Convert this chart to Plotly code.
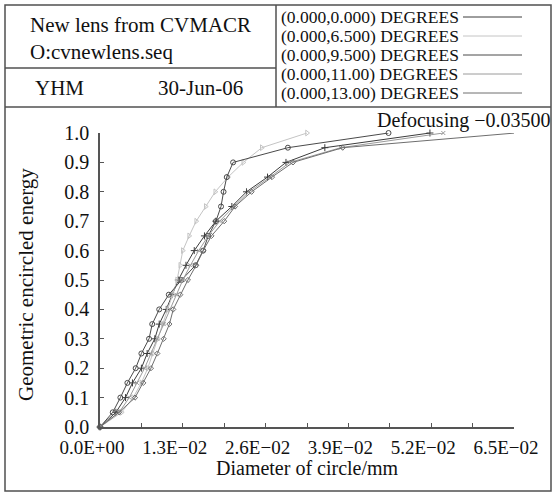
import plotly.graph_objects as go

# ---------------- data ----------------
energy = [0.0, 0.05, 0.10, 0.15, 0.20, 0.25, 0.30, 0.35, 0.40, 0.45, 0.50,
          0.55, 0.60, 0.65, 0.70, 0.75, 0.80, 0.85, 0.90, 0.95, 1.00]

field_labels = ["(0.000,0.000) DEGREES", "(0.000,6.500) DEGREES",
                "(0.000,9.500) DEGREES", "(0.000,11.00) DEGREES",
                "(0.000,13.00) DEGREES"]

diam_f0 = [0.0, 0.0025, 0.0040, 0.0051, 0.0065, 0.0074, 0.0086, 0.0093, 0.0104, 0.0113, 0.0123,
           0.0135, 0.0148, 0.0164, 0.0182, 0.0207, 0.0230, 0.0263, 0.0292, 0.0353, 0.0518]
diam_f1 = [0.0, 0.0034, 0.0052, 0.0065, 0.0075, 0.0083, 0.0091, 0.0099, 0.0107, 0.0114, 0.0121,
           0.0126, 0.0130, 0.0140, 0.0151, 0.0166, 0.0181, 0.0201, 0.0225, 0.0254, 0.0325]
diam_f2 = [0.0, 0.0020, 0.0032, 0.0043, 0.0056, 0.0065, 0.0077, 0.0082, 0.0093, 0.0108, 0.0128,
           0.0150, 0.0162, 0.0170, 0.0182, 0.0190, 0.0194, 0.0199, 0.0209, 0.0295, 0.0453]
diam_f3 = [0.0, 0.0030, 0.0046, 0.0058, 0.0070, 0.0080, 0.0090, 0.0100, 0.0110, 0.0120, 0.0130,
           0.0142, 0.0155, 0.0170, 0.0188, 0.0210, 0.0234, 0.0267, 0.0298, 0.0378, 0.0539]
diam_f4 = [0.0, 0.0030, 0.0055, 0.0068, 0.0080, 0.0090, 0.0100, 0.0109, 0.0115, 0.0126, 0.0138,
           0.0151, 0.0162, 0.0175, 0.0195, 0.0212, 0.0238, 0.0270, 0.0303, 0.0381, 0.0652]

x_tickvals = [0.0, 0.0065, 0.013, 0.0195, 0.026, 0.0325, 0.039, 0.0455, 0.052, 0.0585, 0.065]
x_ticktext = ["0.0E+00", "", "1.3E\u221202", "", "2.6E\u221202", "", "3.9E\u221202", "",
              "5.2E\u221202", "", "6.5E\u221202"]
y_tickvals = [0.0, 0.1, 0.2, 0.3, 0.4, 0.5, 0.6, 0.7, 0.8, 0.9, 1.0]
y_ticktext = ["0.0", "0.1", "0.2", "0.3", "0.4", "0.5", "0.6", "0.7", "0.8", "0.9", "1.0"]

title_lines = ["New lens from CVMACR", "O:cvnewlens.seq"]
author = "YHM"
date = "30-Jun-06"
defocus_text = "Defocusing \u22120.03500"
x_title = "Diameter of circle/mm"
y_title = "Geometric encircled energy"

# ---------------- style ----------------
series = [diam_f0, diam_f1, diam_f2, diam_f3, diam_f4]
colors = ["#3c3c3c", "#c4c4c4", "#4a4a4a", "#9a9a9a", "#6e6e6e"]
symbols = ["cross-thin", "triangle-right-open", "circle-open", "x-thin", "diamond-open"]
msizes = [5, 5, 5, 4, 4]

W, H = 555, 495
L, R, T, B = 100, 514, 133, 427  # plot-area pixel bounds
FONT = "Liberation Serif, Times New Roman, serif"


def px(x):
    return (x - L) / (R - L)


def py(y):
    return (B - y) / (B - T)


fig = go.Figure()
for xs, c, s, ms, name in zip(series, colors, symbols, msizes, field_labels):
    fig.add_trace(go.Scatter(
        x=xs, y=energy, mode="lines+markers", name=name,
        line=dict(color=c, width=1),
        marker=dict(symbol=s, size=ms, color=c, line=dict(color=c, width=1)),
        showlegend=False, cliponaxis=False))

shapes = []
line_style = dict(color="#505050", width=1.5)
shapes.append(dict(type="rect", xref="paper", yref="paper",
                   x0=px(5), x1=px(551), y0=py(5), y1=py(491), line=line_style))
shapes.append(dict(type="line", xref="paper", yref="paper",
                   x0=px(5), x1=px(551), y0=py(107), y1=py(107), line=line_style))
shapes.append(dict(type="line", xref="paper", yref="paper",
                   x0=px(276), x1=px(276), y0=py(5), y1=py(107), line=line_style))
shapes.append(dict(type="line", xref="paper", yref="paper",
                   x0=px(5), x1=px(276), y0=py(68), y1=py(68), line=line_style))

annotations = []


def txt(text, x, y, size, xanchor="left", yanchor="middle", angle=0):
    annotations.append(dict(text=text, xref="paper", yref="paper", x=px(x), y=py(y),
                            xanchor=xanchor, yanchor=yanchor, showarrow=False,
                            textangle=angle, font=dict(family=FONT, size=size, color="#111")))


txt(title_lines[0], 28, 25, 21)
txt(title_lines[1], 28, 52, 21)
txt(author, 33, 88, 21)
txt(date, 156, 88, 21)

legend_y = [17, 36, 55, 74, 93]
for lab, c, yy in zip(field_labels, colors, legend_y):
    txt(lab, 279, yy, 17.5)
    shapes.append(dict(type="line", xref="paper", yref="paper",
                       x0=px(463), x1=px(522), y0=py(yy), y1=py(yy),
                       line=dict(color=c, width=1)))

txt(defocus_text, 552, 120, 20, xanchor="right")
txt(x_title, 307, 468, 20, xanchor="center")
txt(y_title, 26, 285, 21, xanchor="center", angle=-90)

axis_font = dict(family=FONT, size=19, color="#111")
fig.update_layout(
    width=W, height=H,
    margin=dict(l=L, r=W - R, t=T, b=H - B, pad=0),
    paper_bgcolor="white", plot_bgcolor="white",
    shapes=shapes, annotations=annotations,
    xaxis=dict(range=[0, 0.065], tickmode="array", tickvals=x_tickvals, ticktext=x_ticktext,
               ticks="inside", ticklen=4, tickcolor="#555", showline=True, linecolor="#555",
               linewidth=1.5, showgrid=False, zeroline=False, tickfont=axis_font,
               ticklabelshift=-8, ticklabelstandoff=2, fixedrange=True),
    yaxis=dict(range=[0, 1.0], tickmode="array", tickvals=y_tickvals, ticktext=y_ticktext,
               ticks="inside", ticklen=4, tickcolor="#555", showline=True, linecolor="#555",
               linewidth=1.5, showgrid=False, zeroline=False,
               tickfont=dict(family=FONT, size=20, color="#111"),
               ticklabelstandoff=5, fixedrange=True),
)

fig.write_html("out.html", config={"displayModeBar": False},
               post_script="document.body.style.margin='0';document.body.style.overflow='hidden';")
